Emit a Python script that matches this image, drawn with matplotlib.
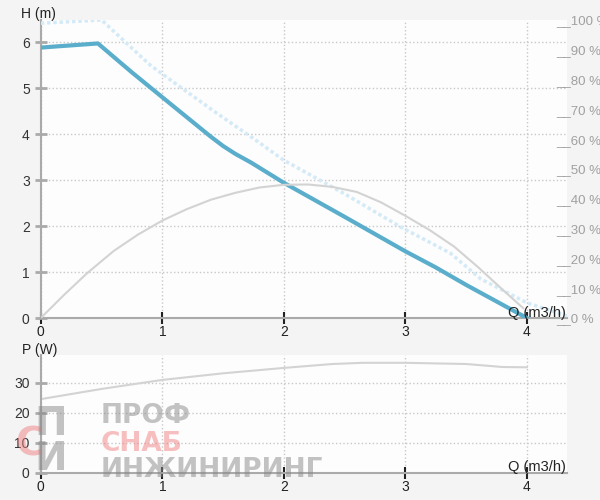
import matplotlib.pyplot as plt

plt.rcParams['font.family'] = ['Liberation Sans', 'DejaVu Sans']

# head curve (m)
q_head = [0, 0.1, 0.47, 0.75, 1.0, 1.4, 1.5, 1.6, 1.73, 2.0, 2.5, 3.0, 3.25, 3.5, 4.0]
head = [5.88, 5.9, 5.97, 5.34, 4.8, 3.94, 3.74, 3.57, 3.38, 2.94, 2.2, 1.45, 1.1, 0.72, 0.0]

# max curve (m), light dotted
q_max = [0, 0.5, 0.9, 1.07, 1.45, 1.73, 2.0, 2.5, 2.96, 3.37, 3.62, 4.0, 4.36]
head_max = [6.41, 6.48, 5.5, 5.17, 4.45, 3.94, 3.43, 2.7, 1.98, 1.41, 0.85, 0.33, 0.02]

# efficiency (%)
q_eff = [0, 0.19, 0.38, 0.6, 0.8, 1.0, 1.2, 1.4, 1.6, 1.8, 2.0, 2.2, 2.4, 2.6, 2.8,
         3.0, 3.2, 3.4, 3.6, 3.8, 3.97]
eff = [0, 7.7, 15, 22.5, 28, 32.7, 36.5, 39.7, 42, 43.8, 44.7, 44.8, 44, 42.3, 38.8,
       34.3, 29.5, 24, 17, 9.5, 3.3]

# power (W)
q_pow = [0, 0.5, 1, 1.5, 2, 2.4, 2.65, 3, 3.5, 3.8, 4.0]
power = [24.6, 28, 31, 33.2, 35, 36.3, 36.7, 36.7, 36.3, 35.3, 35.2]

h_ticks = [0, 1, 2, 3, 4, 5, 6]
pct_ticks = [0, 10, 20, 30, 40, 50, 60, 70, 80, 90, 100]
p_ticks = [0, 10, 20, 30]
q_ticks = [0, 1, 2, 3, 4]

fig = plt.figure(figsize=(6, 5), dpi=100, facecolor='#f4f4f4')
ax = fig.add_axes([0.068, 0.364, 0.877, 0.596], facecolor='#fdfdfd')
ax2 = ax.twinx()
axp = fig.add_axes([0.068, 0.054, 0.877, 0.236], facecolor='#fdfdfd')

blue = '#5aaecb'
grey = '#d3d3d3'

ax.plot(q_max, head_max, color='#d4eaf7', lw=2.5, linestyle=(0, (1, 0.8)), zorder=3)
ax.plot(q_head, head, color=blue, lw=3, zorder=4)
ax2.plot(q_eff, eff, color=grey, lw=1.5)
axp.plot(q_pow, power, color=grey, lw=1.5)

for a in (ax, axp):
    a.set_xlim(0, 4.33)
    a.set_xticks(q_ticks)
    a.grid(True, color='#c8c8c8', linestyle=':', linewidth=1)
    a.spines['top'].set_visible(False)
    a.spines['right'].set_visible(False)
    a.spines['left'].set_color('#aaaaaa')
    a.spines['left'].set_linewidth(1.5)
    a.spines['bottom'].set_color('#aaaaaa')
    a.spines['bottom'].set_linewidth(1.5)
    a.tick_params(axis='x', direction='inout', length=8, width=1.5, color='#222222',
                  labelsize=10, pad=1, labelcolor='#222222')
    a.tick_params(axis='y', direction='inout', length=8, width=2, color='#aaaaaa',
                  labelsize=10, pad=4, labelcolor='#333333')
    a.set_axisbelow(True)

ax.set_ylim(0, 6.48)
ax.set_yticks(h_ticks)
axp.set_ylim(0, 39.3)
axp.set_yticks(p_ticks)

ax2.set_ylim(0, 99.3)
ax2.set_yticks(pct_ticks)
ax2.set_yticklabels(['__%d %%' % v for v in pct_ticks])
ax2.tick_params(axis='y', length=0, pad=-8, labelsize=9.5, labelcolor='#a0a0a0')
for s in ax2.spines.values():
    s.set_visible(False)

# axis titles
fig.text(0.035, 0.972, 'H (m)', fontsize=10, color='#222222', va='center')
fig.text(0.037, 0.30, 'P (W)', fontsize=10, color='#222222', va='center')
fig.text(0.847, 0.375, 'Q (m3/h)', fontsize=10.5, color='#222222', va='center')
fig.text(0.847, 0.066, 'Q (m3/h)', fontsize=10.5, color='#222222', va='center')

# watermark
wm = dict(fontweight='bold', va='center', family='DejaVu Sans')
fig.text(0.025, 0.11, 'С', fontsize=28, color='#f08080', alpha=0.5, **wm)
fig.text(0.058, 0.152, 'П', fontsize=28, color='#888888', alpha=0.5, **wm)
fig.text(0.058, 0.082, 'И', fontsize=28, color='#888888', alpha=0.5, **wm)
fig.text(0.167, 0.168, 'ПРОФ', fontsize=19, color='#888888', alpha=0.5, **wm)
fig.text(0.167, 0.112, 'СНАБ', fontsize=19, color='#f08080', alpha=0.5, **wm)
fig.text(0.167, 0.06, 'ИНЖИНИРИНГ', fontsize=19, color='#888888', alpha=0.5, **wm)

fig.savefig('out.png', dpi=100, facecolor=fig.get_facecolor())
